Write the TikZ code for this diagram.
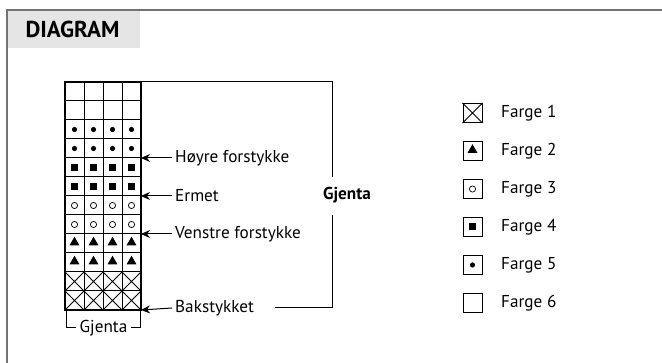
\documentclass[tikz,border=0pt]{standalone}
\usepackage{fontspec}
\setmainfont{PT Sans}
\usetikzlibrary{arrows.meta,shapes.geometric}

\begin{document}
\begin{tikzpicture}[x=1pt,y=1pt,
  lbl/.style={font=\fontsize{17.2}{19}\selectfont,inner xsep=3pt,inner ysep=0pt},
  dotmark/.style={circle,fill,inner sep=0pt,minimum size=5.2pt},
  ringmark/.style={circle,draw,line width=0.7pt,inner sep=0pt,minimum size=6.2pt},
  sqmark/.style={rectangle,fill,inner sep=0pt,minimum size=7pt},
  trimark/.style={regular polygon,regular polygon sides=3,fill,inner sep=0pt,minimum size=11.5pt,yshift=1pt},
  keybox/.style={rectangle,draw,line width=1pt,inner sep=0pt,minimum size=19pt},
  arr/.style={-{Stealth[length=9pt,width=8pt]},line width=1pt}]
\useasboundingbox (0,0) rectangle (662,363);
\fill[black!10] (7.6,315) rectangle (140,352.4);
\draw[black!55,line width=1.2pt] (7,0) -- (7,353) -- (662,353);
\node[font=\fontsize{23}{25}\selectfont\bfseries] (title) at (72.5,334) {DIAGRAM};

\begin{scope}[shift={(65,53)},x=19pt,y=19pt]
\draw[line width=1pt,step=1] (0,0) grid (4,12);
\coordinate (g0) at (4,0);
\coordinate (g4) at (4,4);
\coordinate (g6) at (4,6);
\coordinate (g8) at (4,8);
\coordinate (g12) at (4,12);
\coordinate (gl) at (0,0);
\coordinate (gr) at (4,0);
\node[dotmark] (r9c1) at (0.5,9.5) {};
\node[dotmark] (r9c2) at (1.5,9.5) {};
\node[dotmark] (r9c3) at (2.5,9.5) {};
\node[dotmark] (r9c4) at (3.5,9.5) {};
\node[dotmark] (r8c1) at (0.5,8.5) {};
\node[dotmark] (r8c2) at (1.5,8.5) {};
\node[dotmark] (r8c3) at (2.5,8.5) {};
\node[dotmark] (r8c4) at (3.5,8.5) {};
\node[sqmark] (r7c1) at (0.5,7.5) {};
\node[sqmark] (r7c2) at (1.5,7.5) {};
\node[sqmark] (r7c3) at (2.5,7.5) {};
\node[sqmark] (r7c4) at (3.5,7.5) {};
\node[sqmark] (r6c1) at (0.5,6.5) {};
\node[sqmark] (r6c2) at (1.5,6.5) {};
\node[sqmark] (r6c3) at (2.5,6.5) {};
\node[sqmark] (r6c4) at (3.5,6.5) {};
\node[ringmark] (r5c1) at (0.5,5.5) {};
\node[ringmark] (r5c2) at (1.5,5.5) {};
\node[ringmark] (r5c3) at (2.5,5.5) {};
\node[ringmark] (r5c4) at (3.5,5.5) {};
\node[ringmark] (r4c1) at (0.5,4.5) {};
\node[ringmark] (r4c2) at (1.5,4.5) {};
\node[ringmark] (r4c3) at (2.5,4.5) {};
\node[ringmark] (r4c4) at (3.5,4.5) {};
\node[trimark] (r3c1) at (0.5,3.5) {};
\node[trimark] (r3c2) at (1.5,3.5) {};
\node[trimark] (r3c3) at (2.5,3.5) {};
\node[trimark] (r3c4) at (3.5,3.5) {};
\node[trimark] (r2c1) at (0.5,2.5) {};
\node[trimark] (r2c2) at (1.5,2.5) {};
\node[trimark] (r2c3) at (2.5,2.5) {};
\node[trimark] (r2c4) at (3.5,2.5) {};
\draw[line width=1pt] (0,0) -- (1,1) (0,1) -- (1,0);
\draw[line width=1pt] (1,0) -- (2,1) (1,1) -- (2,0);
\draw[line width=1pt] (2,0) -- (3,1) (2,1) -- (3,0);
\draw[line width=1pt] (3,0) -- (4,1) (3,1) -- (4,0);
\draw[line width=1pt] (0,1) -- (1,2) (0,2) -- (1,1);
\draw[line width=1pt] (1,1) -- (2,2) (1,2) -- (2,1);
\draw[line width=1pt] (2,1) -- (3,2) (2,2) -- (3,1);
\draw[line width=1pt] (3,1) -- (4,2) (3,2) -- (4,1);
\draw[line width=2.6pt] (0,0) rectangle (4,12);
\end{scope}

\node[lbl,anchor=west] (hoyre) at (172,205) {Høyre forstykke};
\node[lbl,anchor=west] (ermet) at (172,167) {Ermet};
\node[lbl,anchor=west] (venstre) at (172,129) {Venstre forstykke};
\node[lbl,anchor=west] (bak) at (172,55) {Bakstykket};
\draw[arr] (hoyre.west) -- (g8);
\draw[arr] (ermet.west) -- (g6);
\draw[arr] (venstre.west) -- (g4);
\draw[arr] (bak.west) -- (g0);

\node[lbl,font=\fontsize{17.2}{19}\selectfont\bfseries] (gjenta) at (347,168) {Gjenta};
\coordinate (bt) at (332,186);
\coordinate (bb) at (332,148);
\coordinate (bl) at (275,55);
\draw[line width=1pt] (g12) -| (bt);
\draw[line width=1pt] (bb) |- (bl);

\node[lbl] (gjb) at (103.5,35) {Gjenta};
\draw[line width=1pt] ([xshift=1pt]gl) |- (gjb.west);
\draw[line width=1pt] ([xshift=-0.5pt]gr) |- (gjb.east);

\node[keybox] (k1) at (472.5,250) {};
\node[keybox] (k2) at (472.5,212) {};
\node[keybox] (k3) at (472.5,174) {};
\node[keybox] (k4) at (472.5,136) {};
\node[keybox] (k5) at (472.5,98) {};
\node[keybox] (k6) at (472.5,60) {};
\draw[line width=1pt] (k1.north west) -- (k1.south east) (k1.north east) -- (k1.south west);
\node[trimark] (t2) at (k2) {};
\node[ringmark] (t3) at (k3) {};
\node[sqmark] (t4) at (k4) {};
\node[dotmark] (t5) at (k5) {};
\node[lbl,anchor=west] (f1) at (498,250) {Farge 1};
\node[lbl,anchor=west] (f2) at (498,212) {Farge 2};
\node[lbl,anchor=west] (f3) at (498,174) {Farge 3};
\node[lbl,anchor=west] (f4) at (498,136) {Farge 4};
\node[lbl,anchor=west] (f5) at (498,98) {Farge 5};
\node[lbl,anchor=west] (f6) at (498,60) {Farge 6};
\end{tikzpicture}
\end{document}
